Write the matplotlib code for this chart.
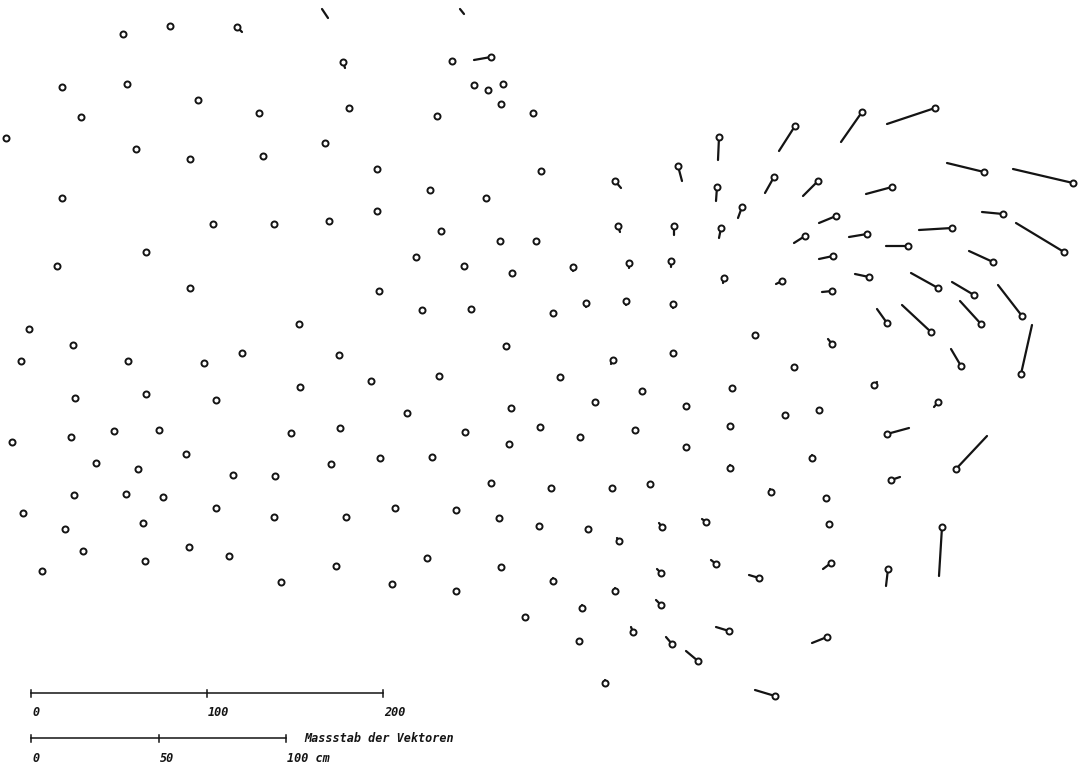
import numpy as np
import matplotlib
matplotlib.use("Agg")
import matplotlib.pyplot as plt
from matplotlib.collections import LineCollection

# Station positions (map pixel units) and displacement vectors (dx, dy in pixels)
px = [123,170,237,343,62,127,198,81,259,349,6,136,190,263,325,62,213,274,329,146,57,190,
      452,491,474,488,503,501,437,533,719,377,430,486,377,441,500,536,416,464,512,379,541,
      615,678,717,774,742,618,674,721,573,629,671,724,782,422,471,553,586,626,673,755,506,
      613,673,439,560,642,732,595,686,511,
      29,299,73,21,128,204,242,339,371,75,146,216,300,340,12,71,114,159,291,186,96,138,331,
      380,233,275,74,126,163,216,23,274,346,395,65,143,83,189,229,145,336,42,281,392,
      407,540,465,509,432,491,551,456,499,539,427,501,553,456,525,
      785,819,874,938,887,580,635,686,730,730,812,891,612,650,771,826,829,588,619,662,706,
      831,888,942,716,759,661,615,582,661,579,633,672,729,698,827,605,775,
      832,961,1021,794,956,
      795,862,935,984,1073,818,892,836,805,867,952,1003,1064,833,908,993,832,869,938,974,
      1022,887,931,981]
py = [34,26,27,62,87,84,100,117,113,108,138,149,159,156,143,198,224,224,221,252,266,288,
      61,57,85,90,84,104,116,113,137,169,190,198,211,231,241,241,257,266,273,291,171,
      181,166,187,177,207,226,226,228,267,263,261,278,281,310,309,313,303,301,304,335,346,
      360,353,376,377,391,388,402,406,408,
      329,324,345,361,361,363,353,355,381,398,394,400,387,428,442,437,431,430,433,454,463,469,464,
      458,475,476,495,494,497,508,513,517,517,508,529,523,551,547,556,561,566,571,582,584,
      413,427,432,444,457,483,488,510,518,526,558,567,581,591,617,
      415,410,385,402,434,437,430,447,426,468,458,480,488,484,492,498,524,529,541,527,522,
      563,569,527,564,578,573,591,608,605,641,632,644,631,661,637,683,696,
      344,366,374,367,469,
      126,112,108,172,183,181,187,216,236,234,228,214,252,256,246,262,291,277,288,295,
      316,323,332,324]
vx = [0,3,5,2,0,0,0,0,0,0,0,0,0,0,0,0,0,0,0,0,0,0,
      0,-17,0,0,0,0,0,0,-1,0,0,0,0,0,0,0,0,0,0,0,0,
      6,4,-1,-9,-4,2,0,-2,0,0,0,-1,-6,0,0,0,0,0,0,0,0,
      -2,0,0,0,0,0,0,0,0,
      0,0,0,0,0,0,0,0,0,0,0,0,0,0,0,0,0,0,0,0,0,0,0,
      0,0,0,0,0,0,0,0,0,0,0,0,0,0,0,0,0,0,0,0,0,
      0,0,0,0,0,0,0,0,0,0,0,0,0,0,0,
      0,0,3,-4,22,0,0,0,0,0,0,9,0,0,-1,0,0,0,-2,-3,-4,
      -8,-2,-3,-5,-10,-4,0,0,-5,0,-2,-6,-13,-12,-15,0,-20,
      -4,-10,11,0,31,
      -16,-21,-48,-37,-60,-15,-26,-17,-11,-18,-33,-21,-48,-14,-22,-24,-10,-14,-27,-22,
      -24,-10,-29,-21]
vy = [0,1,5,6,0,0,0,0,2,2,0,0,0,0,2,0,0,0,0,0,0,0,
      0,3,0,0,0,0,0,0,23,0,0,0,0,0,0,2,0,0,0,0,0,
      7,15,14,16,11,6,9,10,4,5,6,5,3,0,0,0,4,4,4,0,0,
      4,3,0,0,0,0,0,0,0,
      0,0,0,0,0,0,0,0,0,0,0,0,0,0,0,0,0,0,0,0,0,0,0,
      0,0,0,0,0,0,0,0,0,0,0,0,0,0,0,0,0,0,0,0,0,
      0,0,0,0,0,0,0,0,0,0,0,0,-3,0,0,
      0,0,-3,5,-6,0,0,0,0,-3,-3,-3,0,0,-3,0,0,0,-3,-4,-3,
      6,17,49,-4,-3,-4,-3,-3,-5,0,-5,-7,-4,-10,6,-3,-6,
      -5,-17,-49,0,-33,
      25,30,16,-9,-14,15,7,7,7,3,2,-2,-29,3,0,-11,1,-3,-15,-13,
      -31,-14,-27,-23]

# Vectors whose stations lie beyond the upper map edge
edge_x0 = [322, 460]
edge_y0 = [9, 9]
edge_x1 = [328, 464]
edge_y1 = [18, 14]

# Scale bars
map_ticks = [0, 100, 200]
map_labels = ["0", "100", "200"]
vec_ticks = [0, 50, 100]
vec_labels = ["0", "50", "100 cm"]
vec_title = "Massstab der Vektoren"

px, py, vx, vy = map(np.asarray, (px, py, vx, vy))

fig = plt.figure(figsize=(10.82, 7.63), dpi=100)
ax = fig.add_axes([0, 0, 1, 1])
ax.set_xlim(0, 1082)
ax.set_ylim(763, 0)
ax.axis("off")

ink = "#141414"
segs = [[(x, y), (x + dx, y + dy)] for x, y, dx, dy in zip(px, py, vx, vy) if dx or dy]
ax.add_collection(LineCollection(segs, colors=ink, linewidths=1.6, capstyle="round", zorder=2))
ax.add_collection(LineCollection([[(a, b), (c, d)] for a, b, c, d in zip(edge_x0, edge_y0, edge_x1, edge_y1)],
                                 colors=ink, linewidths=1.6, capstyle="round", zorder=2))
ax.scatter(px, py, s=19, facecolors="white", edgecolors=ink, linewidths=1.4, zorder=3)

font = dict(family="DejaVu Sans Mono", weight="bold", style="italic", fontsize=8.5, color=ink)

def scale_bar(x0, y, ppu, ticks, labels, ly):
    xs = [x0 + t * ppu for t in ticks]
    ax.plot([xs[0], xs[-1]], [y, y], color=ink, lw=1.1)
    for xx, lab in zip(xs, labels):
        ax.plot([xx, xx], [y - 3.5, y + 3.5], color=ink, lw=1.1)
        ax.text(xx + 1, ly, lab, ha="left", va="center", **font)
    return xs

scale_bar(31, 693, 352 / 200, map_ticks, map_labels, 713)
xs = scale_bar(31, 738, 255 / 100, vec_ticks, vec_labels, 758)
ax.text(xs[-1] + 18, 738, vec_title, ha="left", va="center", **font)

fig.savefig("out.png", dpi=100, facecolor="white")
